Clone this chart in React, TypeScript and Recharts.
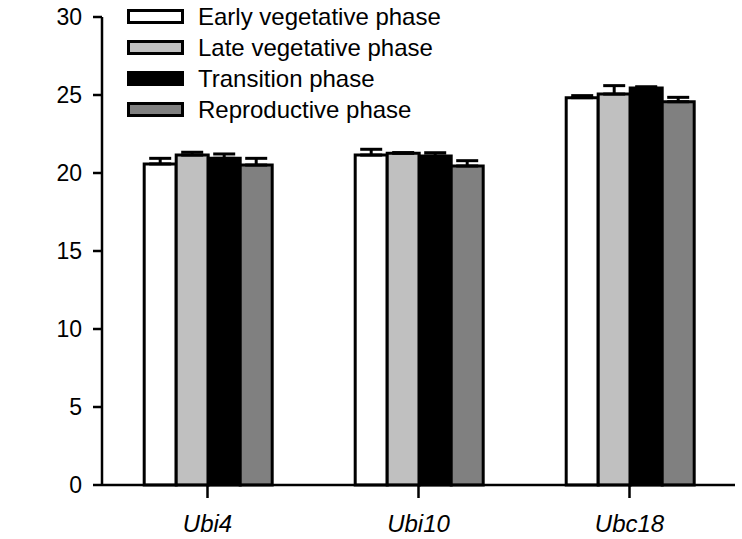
import React from 'react';
import { BarChart, Bar, XAxis, YAxis, ErrorBar, Legend } from 'recharts';

const categories = ['Ubi4', 'Ubi10', 'Ubc18'];
const earlyVeg = [20.58, 21.15, 24.83];
const earlyVegErr = [0.36, 0.37, 0.13];
const lateVeg = [21.15, 21.26, 25.06];
const lateVegErr = [0.18, 0.05, 0.54];
const transition = [20.94, 21.09, 25.45];
const transitionErr = [0.28, 0.21, 0.08];
const reproductive = [20.51, 20.45, 24.57];
const reproductiveErr = [0.43, 0.34, 0.28];
const yTicks = [0, 5, 10, 15, 20, 25, 30];

const seriesNames = ['Early vegetative phase', 'Late vegetative phase', 'Transition phase', 'Reproductive phase'];
const seriesColors = ['#ffffff', '#c0c0c0', '#000000', '#808080'];

const data = categories.map((c, i) => ({
  name: c,
  early: earlyVeg[i],
  earlyErr: [0, earlyVegErr[i]],
  late: lateVeg[i],
  lateErr: [0, lateVegErr[i]],
  trans: transition[i],
  transErr: [0, transitionErr[i]],
  repro: reproductive[i],
  reproErr: [0, reproductiveErr[i]],
}));

const FONT = '"Liberation Sans", Arial, sans-serif';

const renderLegend = () => (
  <div style={{ fontFamily: FONT, textAlign: 'left' }}>
    {seriesNames.map((n, i) => (
      <div key={n} style={{ display: 'flex', alignItems: 'center', height: 31 }}>
        <div
          style={{
            width: 51,
            height: 9,
            background: seriesColors[i],
            border: '3px solid #000',
            marginRight: 14,
          }}
        />
        <span style={{ fontSize: 24, color: '#000', lineHeight: '31px' }}>{n}</span>
      </div>
    ))}
  </div>
);

const XTick = (props: any) => {
  const { x, y, payload } = props;
  return (
    <text x={x} y={y + 32} textAnchor="middle" fontFamily={FONT} fontSize={24} fontStyle="italic" fill="#000">
      {payload.value}
    </text>
  );
};

export default function App() {
  const keys = ['early', 'late', 'trans', 'repro'];
  return (
    <div style={{ position: 'absolute', left: 0, top: 0, width: 742, height: 539, background: '#fff' }}>
      <BarChart
        width={742}
        height={539}
        data={data}
        margin={{ top: 17, right: 7, bottom: 0, left: 0 }}
        barCategoryGap="20%"
        barGap={0}
      >
        <XAxis
          dataKey="name"
          height={54}
          tick={<XTick />}
          tickSize={13}
          axisLine={{ stroke: '#000', strokeWidth: 2.5 }}
          tickLine={{ stroke: '#000', strokeWidth: 2.5 }}
        />
        <YAxis
          width={102}
          domain={[0, 30]}
          ticks={yTicks}
          interval={0}
          tickSize={9}
          tickMargin={11}
          tick={{ fontFamily: FONT, fontSize: 23, fill: '#000' }}
          axisLine={{ stroke: '#000', strokeWidth: 2.5 }}
          tickLine={{ stroke: '#000', strokeWidth: 2.5 }}
        />
        <Legend
          content={renderLegend}
          layout="horizontal"
          verticalAlign="middle"
          align="center"
          wrapperStyle={{ left: 127, top: 1, width: 400, height: 124 }}
        />
        {keys.map((k, i) => (
          <Bar
            key={k}
            dataKey={k}
            name={seriesNames[i]}
            fill={seriesColors[i]}
            stroke="#000"
            strokeWidth={3}
            isAnimationActive={false}
          >
            <ErrorBar dataKey={k + 'Err'} width={11} stroke="#000" strokeWidth={3} direction="y" />
          </Bar>
        ))}
      </BarChart>
    </div>
  );
}
